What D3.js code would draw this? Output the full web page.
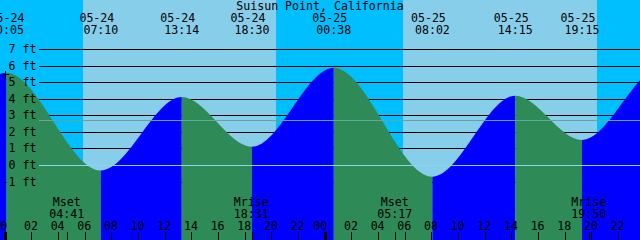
<!DOCTYPE html>
<html><head><meta charset="utf-8">
<script src="https://cdn.jsdelivr.net/npm/d3@7"></script>
<style>
body{margin:0;background:#fff}
svg{display:block}
text{font-family:"DejaVu Sans Mono",monospace;font-size:11.6px;fill:#000}
</style>
</head><body><svg id="c" width="640" height="240"></svg>
<script>
// ---- data (hours counted from 05-24 00:00) ----
const title = "Suisun Point, California";
const tideHours = [-12.6, -6.33, 0.083, 7.167, 13.233, 18.5, 24.633, 32.033, 38.25, 43.25, 49.3, 56.6];
const tideFeet  = [4.0, 1.0, 5.6, -0.3, 4.13, 1.13, 5.9, -0.68, 4.21, 1.54, 6.0, -0.8];
const extremeDates = [null, null, "05-24", "05-24", "05-24", "05-24", "05-25", "05-25", "05-25", "05-25", null, null];
const extremeTimes = [null, null, "00:05", "07:10", "13:14", "18:30", "00:38", "08:02", "14:15", "19:15", null, null];
const sunHours = [-1, 5.8, 20.3, 29.8, 44.35, 49]; // night/day boundaries
const moonHours = [4.683, 18.517, 29.283, 43.833];
const moonNames = ["Mset", "Mrise", "Mset", "Mrise"];
const moonTimes = ["04:41", "18:31", "05:17", "19:50"];
const feetTicks = [-1, 0, 1, 2, 3, 4, 5, 6, 7];
const hourTicks = d3.range(0, 48, 2);
const mslFeet = 2.72;
const datumFeet = 0;
const markHour = 0, markFeet = 5.5;

// ---- colours ----
const NIGHT = "#00bfff", DAY = "#87ceeb", RISE = "#0000ff", FALL = "#2e8b57";

const W = 640, H = 240;
const svg = d3.select("#c");
const x = d3.scaleLinear().domain([0, 48]).range([5.3, 645.3]);
const y = d3.scaleLinear().domain([0, 7]).range([165.5, 49.5]);
const c = v => Math.floor(v) + 0.5;

// sky
for (let i = 0; i < sunHours.length - 1; i++) {
  const x0 = Math.max(0, Math.round(x(sunHours[i]))), x1 = Math.min(W, Math.round(x(sunHours[i + 1])));
  svg.append("rect").attr("x", x0).attr("y", 0).attr("width", x1 - x0).attr("height", H)
    .attr("fill", i % 2 === 0 ? NIGHT : DAY);
}

// grid lines (behind tide)
svg.append("g").selectAll("line").data(feetTicks).join("line")
  .attr("x1", 39).attr("x2", W)
  .attr("y1", d => c(y(d))).attr("y2", d => c(y(d)))
  .attr("stroke", "#000").attr("stroke-width", 1).attr("shape-rendering", "crispEdges");

// tide area
const pts = tideHours.map((h, i) => ({h, f: tideFeet[i]}));
const area = d3.area().x(d => x(d.h)).y0(H).y1(d => y(d.f)).curve(d3.curveMonotoneX);
svg.append("clipPath").attr("id", "tide").append("path").attr("d", area(pts));
const tg = svg.append("g").attr("clip-path", "url(#tide)");
for (let i = 0; i < pts.length - 1; i++) {
  const x0 = x(pts[i].h), x1 = x(pts[i + 1].h);
  tg.append("rect").attr("x", x0).attr("y", 0).attr("width", x1 - x0).attr("height", H)
    .attr("fill", pts[i + 1].f > pts[i].f ? RISE : FALL);
}

// MSL and datum lines
svg.append("line").attr("x1", 39).attr("x2", W).attr("y1", c(y(mslFeet))).attr("y2", c(y(mslFeet)))
  .attr("stroke", "#5fa6a0").attr("shape-rendering", "crispEdges");
svg.append("line").attr("x1", 39).attr("x2", W).attr("y1", c(y(datumFeet))).attr("y2", c(y(datumFeet)))
  .attr("stroke", "#8fd3ee").attr("shape-rendering", "crispEdges");

// y labels
svg.append("g").selectAll("text").data(feetTicks).join("text")
  .attr("x", 36.5).attr("y", d => c(y(d)) + 3.8).attr("text-anchor", "end")
  .text(d => d + " ft");

// title
svg.append("text").attr("x", 320).attr("y", 9.5).attr("text-anchor", "middle").text(title);

// extreme labels
let first = true;
pts.forEach((p, i) => {
  if (!extremeTimes[i]) return;
  const xx = x(p.h);
  svg.append("text").attr("x", xx + (first ? 0.6 : -4)).attr("y", 21.5).attr("text-anchor", "middle").text(extremeDates[i]);
  svg.append("text").attr("x", xx).attr("y", 33.5).attr("text-anchor", "middle").text(extremeTimes[i]);
  first = false;
});

// moon labels
moonHours.forEach((h, i) => {
  const xx = x(h);
  svg.append("text").attr("x", xx - 1).attr("y", 206).attr("text-anchor", "middle").text(moonNames[i]);
  svg.append("text").attr("x", xx - 1).attr("y", 217.5).attr("text-anchor", "middle").text(moonTimes[i]);
  svg.append("line").attr("x1", c(xx)).attr("x2", c(xx)).attr("y1", 232).attr("y2", H)
    .attr("stroke", "#000").attr("shape-rendering", "crispEdges");
});

// hour ticks & labels
const fmt = d3.format("02d");
hourTicks.forEach(h => {
  const xx = x(h), mid = h % 24 === 0;
  svg.append("text").attr("x", xx - (mid ? 5 : 1)).attr("y", 229.5).attr("text-anchor", "middle").text(fmt(h % 24));
  svg.append("line").attr("x1", c(xx)).attr("x2", c(xx)).attr("y1", 232).attr("y2", H)
    .attr("stroke", "#000").attr("stroke-width", mid ? 3 : 1).attr("shape-rendering", "crispEdges");
});

// small cross mark
const mx = c(x(markHour)), my = c(y(markFeet));
svg.append("path").attr("d", `M${mx},${my - 4}V${my + 4}M${mx - 3},${my}H${mx + 3}`)
  .attr("stroke", "#000").attr("fill", "none").attr("shape-rendering", "crispEdges");
</script>
</body></html>
